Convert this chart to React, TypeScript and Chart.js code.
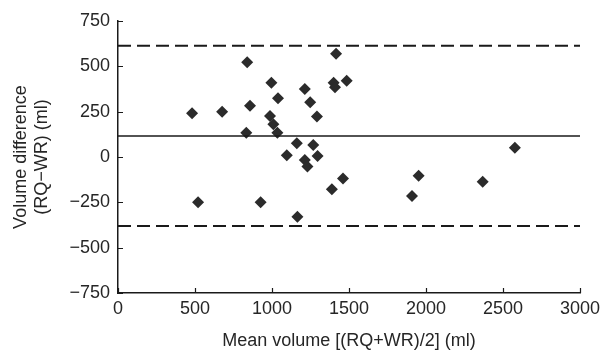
import React, { useEffect, useRef } from "react";
import { Chart, registerables } from "chart.js";

Chart.register(...registerables);

// Mean volume [(RQ+WR)/2] (ml)
const meanVolume = [
  481, 520, 676, 833, 839, 857, 926, 987, 996, 1009, 1035, 1039, 1096, 1161, 1165, 1213,
  1213, 1230, 1248, 1268, 1292, 1296, 1389, 1400, 1409, 1416, 1461, 1485, 1909, 1952, 2368, 2577,
];
// Volume difference (RQ−WR) (ml)
const volumeDiff = [
  241, -250, 250, 134, 523, 283, -250, 226, 410, 180, 134, 324, 9, 76, -330, 375,
  -17, -53, 302, 66, 223, 5, -178, 410, 385, 569, -118, 421, -215, -103, -136, 51,
];
const meanDifference = 116;
const upperLimit = 613;
const lowerLimit = -381;
const xRange = [0, 3000];
const yTicks = [-750, -500, -250, 0, 250, 500, 750];
const xTicks = [0, 500, 1000, 1500, 2000, 2500, 3000];

const AXIS = "#1a1a1a";
const TEXT = "#262626";
const FONT = "'Liberation Sans', Arial, sans-serif";

const inwardTicks = {
  id: "inwardTicks",
  afterDraw(chart: any) {
    const { ctx, chartArea, scales } = chart;
    ctx.save();
    ctx.strokeStyle = AXIS;
    ctx.lineWidth = 1.2;
    ctx.beginPath();
    for (const v of yTicks) {
      const p = Math.round(scales.y.getPixelForValue(v)) + 0.5;
      ctx.moveTo(chartArea.left, p);
      ctx.lineTo(chartArea.left + 5, p);
    }
    for (const v of xTicks) {
      const p = Math.round(scales.x.getPixelForValue(v)) + 0.5;
      ctx.moveTo(p, chartArea.bottom);
      ctx.lineTo(p, chartArea.bottom - 5);
    }
    ctx.stroke();
    ctx.restore();
  },
};

export default function App() {
  const ref = useRef<HTMLCanvasElement | null>(null);
  useEffect(() => {
    if (!ref.current) return;
    const pts = meanVolume.map((x, i) => ({ x, y: volumeDiff[i] }));
    const hline = (y: number) => xRange.map((x) => ({ x, y }));
    const chart = new Chart(ref.current, {
      type: "scatter",
      data: {
        datasets: [
          {
            type: "line",
            data: hline(upperLimit),
            borderColor: AXIS,
            borderWidth: 2,
            borderDash: [13, 6],
            pointRadius: 0,
          } as any,
          {
            type: "line",
            data: hline(meanDifference),
            borderColor: AXIS,
            borderWidth: 1.6,
            pointRadius: 0,
          } as any,
          {
            type: "line",
            data: hline(lowerLimit),
            borderColor: AXIS,
            borderWidth: 2,
            borderDash: [13, 6],
            pointRadius: 0,
          } as any,
          {
            data: pts,
            pointStyle: "rectRot",
            pointRadius: 6,
            backgroundColor: "#2b2b2b",
            borderColor: "#2b2b2b",
            borderWidth: 0,
          },
        ],
      },
      options: {
        responsive: false,
        animation: false,
        events: [],
        layout: { padding: { top: 21, right: 20, left: 0, bottom: 0 } },
        plugins: { legend: { display: false }, tooltip: { enabled: false } },
        scales: {
          x: {
            type: "linear",
            min: 0,
            max: 3000,
            afterFit: (s: any) => {
              s.height = 57;
              s.paddingLeft = 0;
              s.paddingRight = 0;
            },
            afterBuildTicks: (s: any) => {
              s.ticks = xTicks.map((v) => ({ value: v }));
            },
            grid: { display: false, drawTicks: false },
            border: { display: true, color: AXIS, width: 1.5 },
            ticks: {
              padding: 5,
              color: TEXT,
              font: { family: FONT, size: 18 },
              maxRotation: 0,
              callback: (v: any) => String(v),
            },
            title: {
              display: true,
              text: "Mean volume [(RQ+WR)/2] (ml)",
              color: TEXT,
              font: { family: FONT, size: 18, lineHeight: 1 },
              padding: { top: 0, bottom: 0 },
            },
          },
          y: {
            type: "linear",
            min: -750,
            max: 750,
            afterFit: (s: any) => {
              s.width = 118;
              s.paddingTop = 0;
              s.paddingBottom = 0;
            },
            afterBuildTicks: (s: any) => {
              s.ticks = yTicks.map((v) => ({ value: v }));
            },
            grid: { display: false, drawTicks: false },
            border: { display: true, color: AXIS, width: 1.5 },
            ticks: {
              padding: 8,
              color: TEXT,
              font: { family: FONT, size: 18 },
              callback: (v: any) => String(v).replace("-", "\u2212"),
            },
            title: {
              display: true,
              text: ["Volume difference", "(RQ\u2212WR) (ml)"],
              color: TEXT,
              font: { family: FONT, size: 18, lineHeight: 1.15 },
              padding: { top: 10.5, bottom: 0 },
            },
          },
        },
      },
      plugins: [inwardTicks],
    });
    return () => chart.destroy();
  }, []);
  return (
    <div style={{ position: "absolute", left: 0, top: 0, width: 600, height: 350, background: "#fff" }}>
      <canvas ref={ref} width={600} height={350} />
    </div>
  );
}
